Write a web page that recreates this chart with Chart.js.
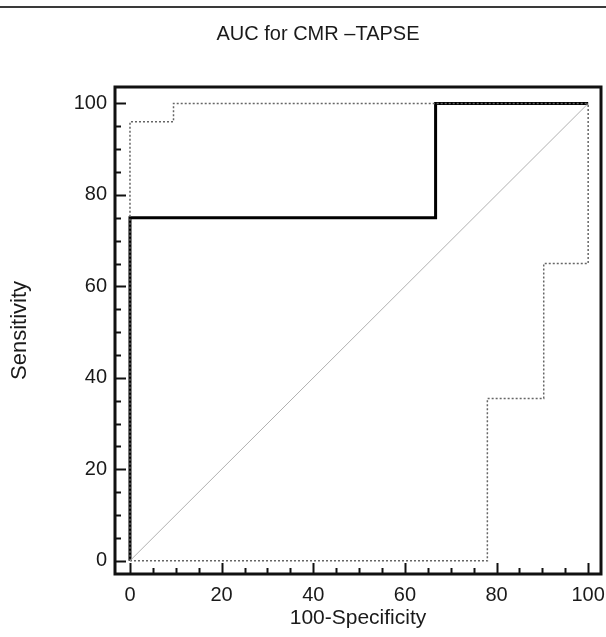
<!DOCTYPE html>
<html>
<head>
<meta charset="utf-8">
<script src="https://cdn.jsdelivr.net/npm/chart.js@4"></script>
<style>
  html, body { margin: 0; padding: 0; background: #fff; }
  #wrap { width: 606px; height: 637px; }
</style>
</head>
<body>
<div id="wrap"><canvas id="rocChart" width="606" height="637"></canvas></div>
<script>
// ROC curve for CMR-TAPSE
const rocX = [0, 0, 66.7, 66.7, 100];
const rocY = [0, 75, 75, 100, 100];

// upper confidence bound (dotted)
const upperX = [0, 0, 9.5, 9.5, 100];
const upperY = [0, 96, 96, 100, 100];

// lower confidence bound (dotted)
const lowerX = [0, 78, 78, 90.3, 90.3, 100, 100];
const lowerY = [0, 0, 35.5, 35.5, 65, 65, 100];

// reference diagonal
const diagX = [0, 100];
const diagY = [0, 100];

const xTicks = [0, 20, 40, 60, 80, 100];
const yTicks = [0, 20, 40, 60, 80, 100];
const minorStep = 5;

const chartTitle = "AUC for CMR \u2013TAPSE";
const FONT = "Liberation Sans, Arial, sans-serif";

function toPoints(xs, ys) {
  return xs.map((x, i) => ({ x: x, y: ys[i] }));
}

// frame, inward ticks, title and the top rule of the figure
const framePlugin = {
  id: "frame",
  beforeDraw(chart) {
    const c = chart.ctx;
    c.save();
    c.strokeStyle = "#3a3a3a";
    c.lineWidth = 2;
    c.beginPath();
    c.moveTo(0, 7);
    c.lineTo(chart.width, 7);
    c.stroke();
    // title (sits a little left of the plot centre in the original)
    c.fillStyle = "#1a1a1a";
    c.font = "20px " + FONT;
    c.textAlign = "center";
    c.textBaseline = "alphabetic";
    c.fillText(chartTitle, 318, 40);
    c.restore();
  },
  afterDraw(chart) {
    const c = chart.ctx;
    const a = chart.chartArea;
    const xs = chart.scales.x;
    const ys = chart.scales.y;
    c.save();
    c.strokeStyle = "#111";
    c.lineWidth = 2;
    for (let v = 0; v <= 100; v += minorStep) {
      const major = v % 20 === 0;
      const len = major ? 11 : 6;
      const px = Math.round(xs.getPixelForValue(v)) + 0.5;
      c.beginPath();
      c.moveTo(px, a.bottom);
      c.lineTo(px, a.bottom - len);
      c.stroke();
      const py = Math.round(ys.getPixelForValue(v)) + 0.5;
      c.beginPath();
      c.moveTo(a.left, py);
      c.lineTo(a.left + len, py);
      c.stroke();
    }
    c.lineWidth = 3;
    c.strokeRect(a.left, a.top, a.right - a.left, a.bottom - a.top);
    c.restore();
  },
};

const ctx = document.getElementById("rocChart").getContext("2d");

new Chart(ctx, {
  type: "scatter",
  data: {
    datasets: [
      {
        data: toPoints(diagX, diagY),
        showLine: true,
        borderColor: "#b0b0b0",
        borderWidth: 1,
        pointRadius: 0,
      },
      {
        data: toPoints(upperX, upperY),
        showLine: true,
        borderColor: "#666",
        borderWidth: 1.5,
        borderDash: [2, 2],
        pointRadius: 0,
      },
      {
        data: toPoints(lowerX, lowerY),
        showLine: true,
        borderColor: "#666",
        borderWidth: 1.5,
        borderDash: [2, 2],
        pointRadius: 0,
      },
      {
        data: toPoints(rocX, rocY),
        showLine: true,
        borderColor: "#000",
        borderWidth: 3,
        pointRadius: 0,
      },
    ],
  },
  options: {
    responsive: false,
    animation: false,
    layout: { padding: { top: 87, right: 5 } },
    scales: {
      x: {
        type: "linear",
        min: -3.27,
        max: 102.8,
        grid: { display: false, drawTicks: false },
        border: { display: false },
        afterBuildTicks: (scale) => {
          scale.ticks = xTicks.map((v) => ({ value: v }));
        },
        afterFit: (scale) => {
          scale.height = 63;
          scale.paddingLeft = 0;
          scale.paddingRight = 0;
        },
        ticks: {
          padding: 9,
          color: "#1a1a1a",
          font: { family: FONT, size: 20 },
          maxRotation: 0,
        },
        title: {
          display: true,
          text: "100-Specificity",
          color: "#1a1a1a",
          padding: { top: 0, bottom: 6 },
          font: { family: FONT, size: 21 },
        },
      },
      y: {
        type: "linear",
        min: -2.9,
        max: 103.6,
        grid: { display: false, drawTicks: false },
        border: { display: false },
        afterBuildTicks: (scale) => {
          scale.ticks = yTicks.map((v) => ({ value: v }));
        },
        afterFit: (scale) => {
          scale.width = 115;
          scale.paddingTop = 0;
          scale.paddingBottom = 0;
        },
        ticks: {
          padding: 8,
          color: "#1a1a1a",
          font: { family: FONT, size: 20 },
        },
        title: {
          display: true,
          text: "Sensitivity",
          color: "#1a1a1a",
          padding: { top: 7, bottom: 0 },
          font: { family: FONT, size: 22 },
        },
      },
    },
    plugins: {
      legend: { display: false },
      tooltip: { enabled: false },
      title: { display: false },
    },
  },
  plugins: [framePlugin],
});
</script>
</body>
</html>
